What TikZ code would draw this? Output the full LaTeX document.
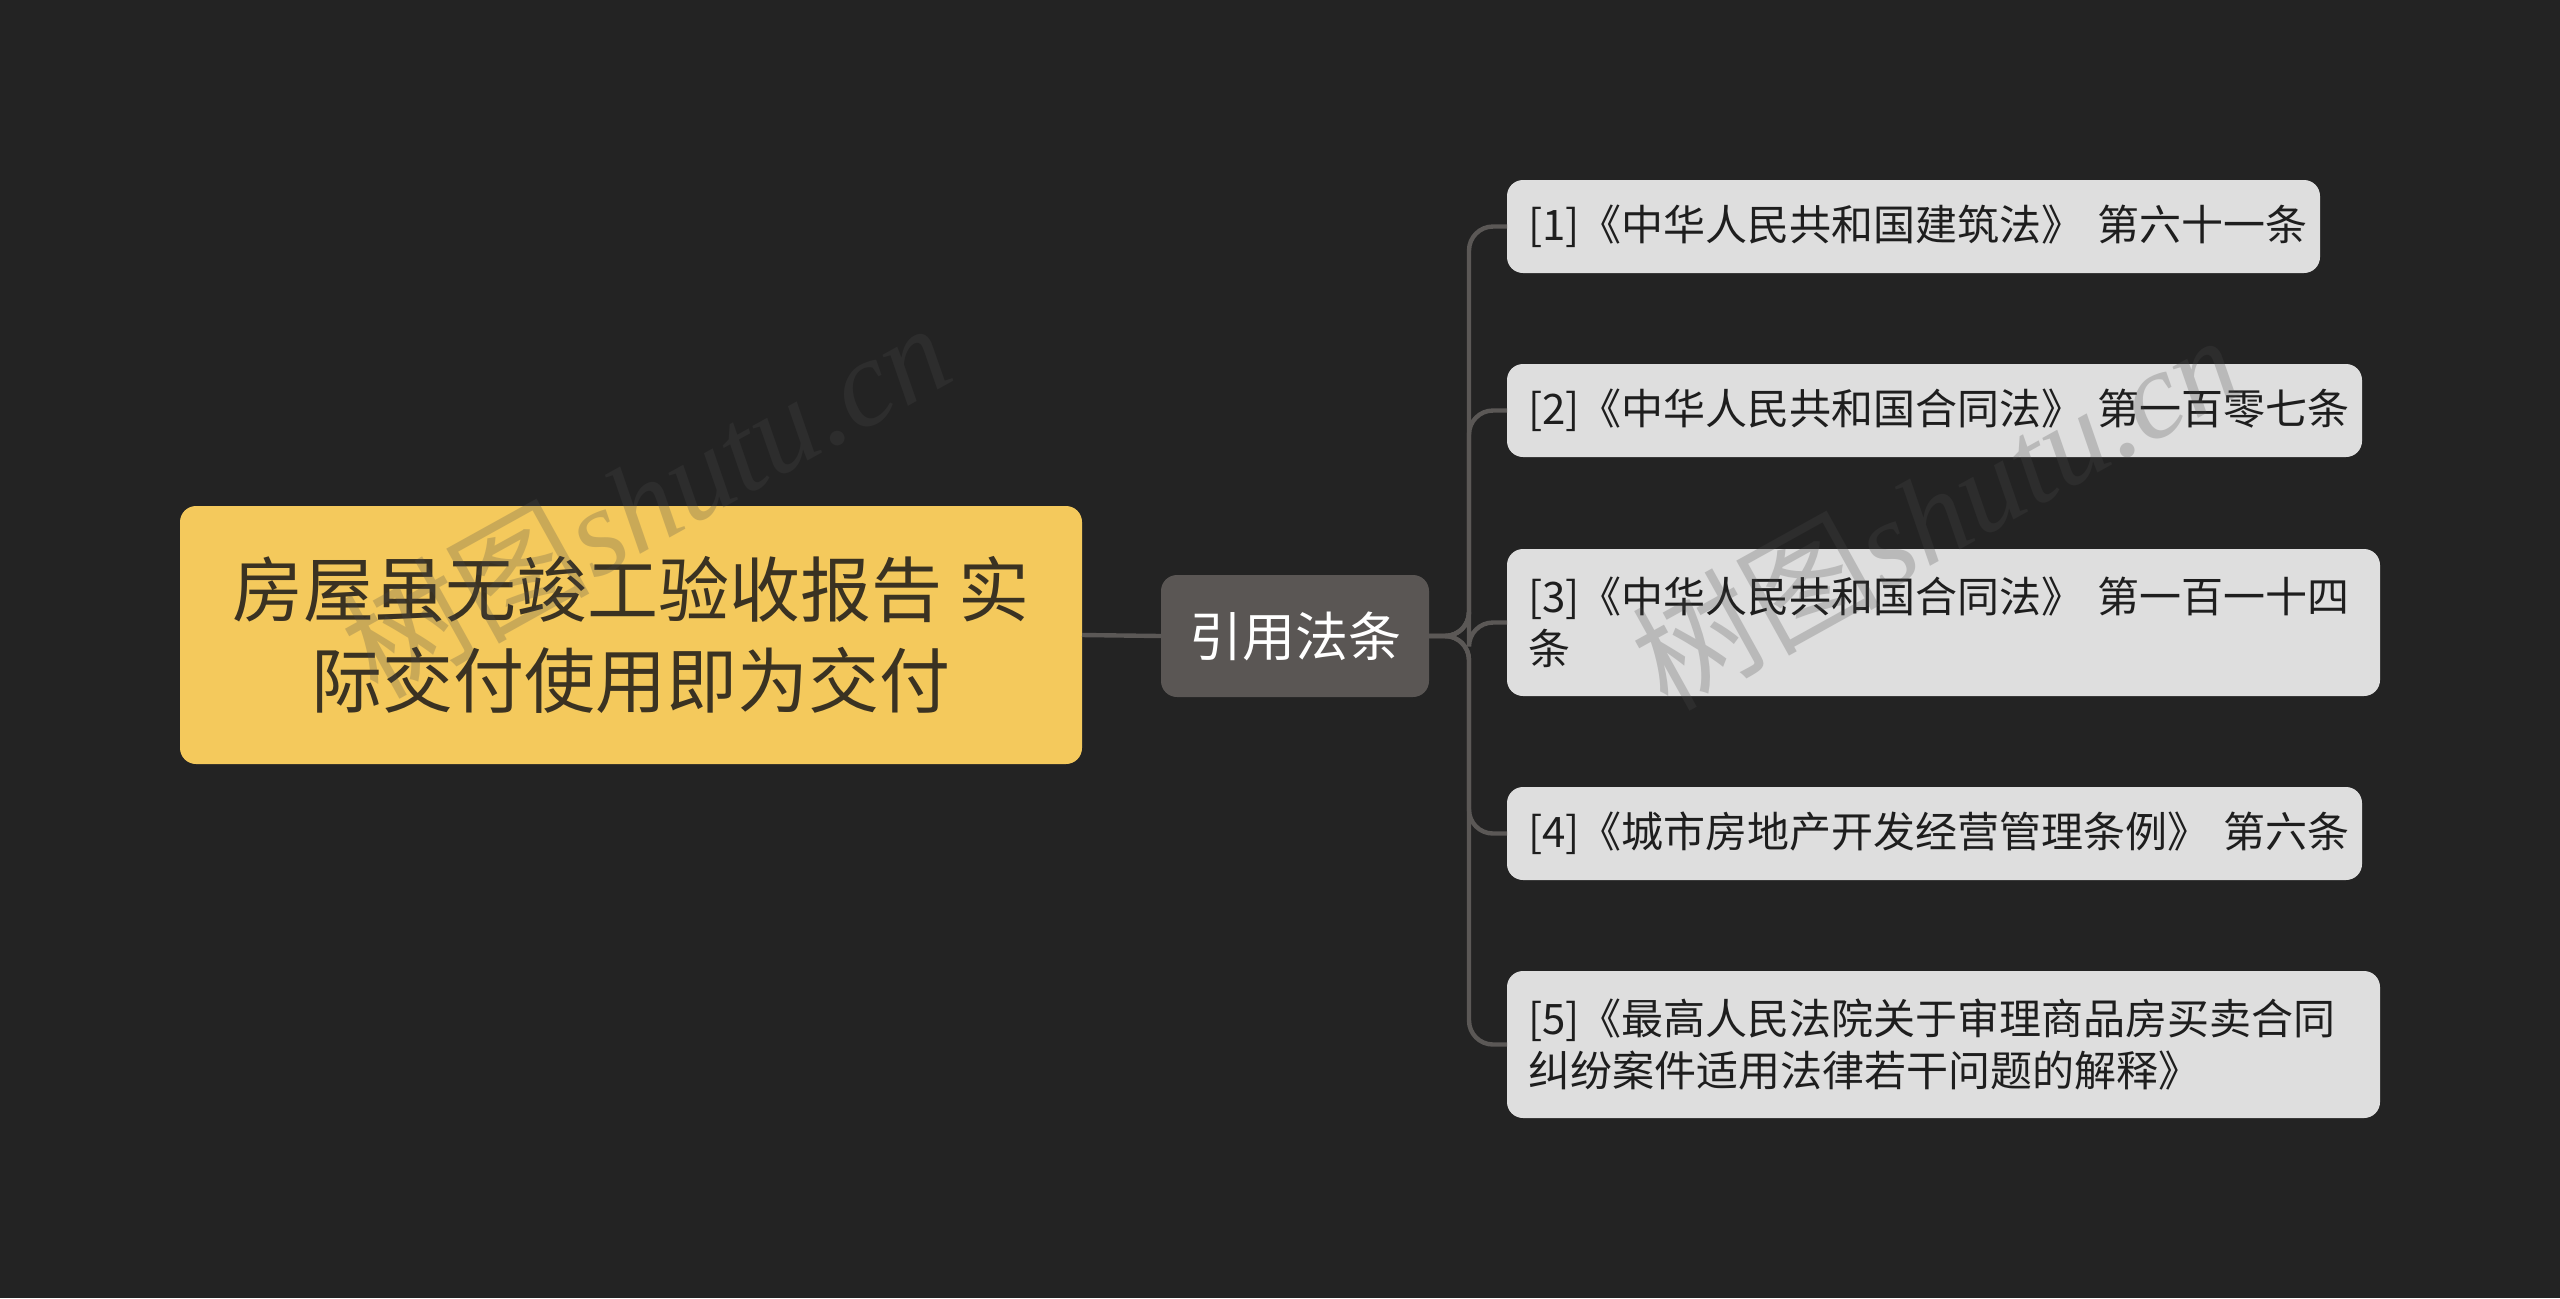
\documentclass[tikz,border=0pt]{standalone}
\usepackage{fontspec}
\setmainfont{Noto Sans CJK SC}
\newfontfamily\wmcjk{Noto Sans CJK SC}
\newfontfamily\wmlat{Liberation Serif}
\definecolor{bgc}{HTML}{232323}
\definecolor{linec}{HTML}{5B5856}
\definecolor{rootc}{HTML}{F4C95C}
\definecolor{roottext}{HTML}{3A3222}
\definecolor{midc}{HTML}{5A5654}
\definecolor{leafc}{HTML}{DEDEDE}
\definecolor{leaftext}{HTML}{1E1E1E}
\definecolor{wmc}{HTML}{4B4B4B}
\tikzset{
  conn/.style={draw=linec, line width=2.2pt, rounded corners=12pt},
  rootbox/.style={fill=rootc, text=roottext, rounded corners=8pt, minimum width=451pt, minimum height=129pt, align=center, inner sep=0pt, outer sep=0pt,
    font=\fontsize{35.5pt}{45.5pt}\selectfont},
  midbox/.style={fill=midc, text=white, rounded corners=8pt, minimum width=134pt, minimum height=61pt, inner sep=0pt, outer sep=0pt,
    font=\fontsize{26.5pt}{32pt}\selectfont},
  leafbox/.style={fill=leafc, text=leaftext, rounded corners=8pt, anchor=west, align=left, inner xsep=10.5pt, inner ysep=0pt, outer sep=0pt,
    font=\fontsize{21pt}{26pt}\selectfont},
  wmark/.style={rotate=29, text=wmc, text opacity=0.25, inner sep=0pt}
}
\begin{document}
\begin{tikzpicture}[x=0.5pt, y=-0.5pt]
\fill[bgc] (0,0) rectangle (2560,1298);
\useasboundingbox (0,0) rectangle (2560,1298);
% nodes
\node[rootbox] (root) at (631,635) {房屋虽无竣工验收报告 实\\际交付使用即为交付};
\node[midbox] (mid) at (1295,636) {引用法条};
\node[leafbox, text width=385.5pt, minimum height=46.5pt] (l1) at (1507,226.5) {[1]《中华人民共和国建筑法》~第六十一条};
\node[leafbox, text width=406.5pt, minimum height=46.5pt] (l2) at (1507,410.5) {[2]《中华人民共和国合同法》~第一百零七条};
\node[leafbox, text width=415.5pt, minimum height=73.5pt] (l3) at (1507,622.5) {[3]《中华人民共和国合同法》~第一百一十四\\条};
\node[leafbox, text width=406.5pt, minimum height=46.5pt] (l4) at (1507,833.5) {[4]《城市房地产开发经营管理条例》~第六条};
\node[leafbox, text width=415.5pt, minimum height=73.5pt] (l5) at (1507,1044.5) {[5]《最高人民法院关于审理商品房买卖合同\\纠纷案件适用法律若干问题的解释》};
% connectors
\coordinate (trunk) at (1469,636);
\draw[conn] (root.east) -- (mid.west);
\foreach \l in {l1,l2,l3,l4,l5}{
  \draw[conn] (mid.east) -- (trunk) |- (\l.west);
}
% watermarks
\node[wmark] (wm1) at (645,498) {\fontsize{62pt}{62pt}\selectfont\wmcjk 树图\wmlat\itshape shutu.cn};
\node[wmark] (wm2) at (1935,510) {\fontsize{62pt}{62pt}\selectfont\wmcjk 树图\wmlat\itshape shutu.cn};
\end{tikzpicture}
\end{document}
